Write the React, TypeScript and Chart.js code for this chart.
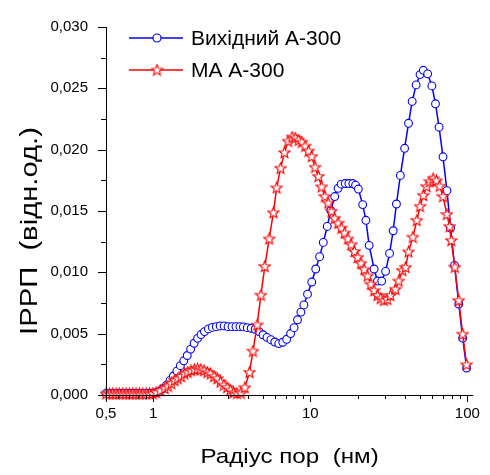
import React, { useEffect, useRef } from "react";
import { Chart, registerables } from "chart.js";

Chart.register(...registerables);

// ---- data ----
const seriesBlueName = "Вихідний А-300";
const seriesRedName = "МА А-300";

const xBlue = [
  0.5, 0.527, 0.555, 0.584, 0.615, 0.648, 0.683, 0.719, 0.757, 0.798, 0.84, 0.885, 0.932, 0.982, 1.034, 1.089,
  1.155, 1.215, 1.278, 1.344, 1.414, 1.487, 1.564, 1.646, 1.73, 1.82, 1.915, 2.014, 2.118, 2.244, 2.378, 2.52,
  2.668, 2.828, 2.996, 3.174, 3.363, 3.562, 3.747, 3.969, 4.205, 4.456, 4.721, 5.002, 5.299, 5.614, 5.947, 6.301,
  6.676, 7.071, 7.492, 7.882, 8.288, 8.717, 9.105, 9.604, 10.22, 10.83, 11.47, 12.1, 12.82, 13.5, 14.31, 15.03,
  15.76, 16.7, 17.61, 18.66, 19.43, 20.23, 21.56, 22.61, 23.71, 25.49, 26.77, 28.48, 30.17, 31.97, 33.72, 35.37,
  37.47, 39.86, 42.23, 44.55, 47.21, 50.01, 52.45, 55.89, 59.47, 62.73, 66.08, 70.0, 74.18, 78.24, 82.9, 88.21,
  93.44, 98.99,
];
const yBlue = [
  0.00013, 0.00013, 0.00013, 0.00013, 0.00013, 0.00013, 0.00013, 0.00013, 0.00013, 0.00013, 0.00013, 0.00013, 0.00014, 0.00015, 0.00018, 0.00028,
  0.00053, 0.0008, 0.00119, 0.00155, 0.00195, 0.00239, 0.00279, 0.00322, 0.00374, 0.00422, 0.00462, 0.00493, 0.00517, 0.00539, 0.00551, 0.00557,
  0.00563, 0.00563, 0.00557, 0.00557, 0.00557, 0.00557, 0.00555, 0.00549, 0.00544, 0.00536, 0.00517, 0.00491, 0.0047, 0.00451, 0.00432, 0.00419,
  0.0043, 0.00454, 0.00501, 0.00549, 0.00613, 0.00676, 0.00734, 0.00822, 0.00921, 0.01027, 0.01128, 0.01244, 0.01374, 0.01504, 0.01618, 0.01685,
  0.01719, 0.01724, 0.01724, 0.01724, 0.01711, 0.01679, 0.01552, 0.01424, 0.0122, 0.01027, 0.00929, 0.00929, 0.01008, 0.01154, 0.01339, 0.01557,
  0.0179, 0.02011, 0.02215, 0.02393, 0.02528, 0.02612, 0.02647, 0.02618, 0.0252, 0.02374, 0.02183, 0.01942, 0.01666, 0.01361, 0.01056, 0.00742,
  0.00464, 0.0022,
];

const xRed = [
  0.5, 0.525, 0.552, 0.579, 0.608, 0.639, 0.671, 0.705, 0.74, 0.777, 0.816, 0.857, 0.9, 0.946, 0.993, 1.043,
  1.106, 1.184, 1.242, 1.302, 1.368, 1.434, 1.504, 1.58, 1.657, 1.739, 1.826, 1.915, 2.008, 2.11, 2.212, 2.32,
  2.437, 2.556, 2.68, 2.816, 2.953, 3.097, 3.243, 3.411, 3.614, 3.829, 4.099, 4.316, 4.586, 4.846, 5.133, 5.47,
  5.82, 6.104, 6.467, 6.85, 7.225, 7.656, 8.03, 8.433, 8.844, 9.276, 9.743, 10.22, 10.72, 11.26, 11.81, 12.38,
  13.01, 13.64, 14.31, 15.03, 15.76, 16.53, 17.36, 18.2, 19.09, 20.05, 21.03, 22.06, 23.17, 24.3, 25.49, 26.77,
  28.08, 29.44, 30.93, 32.43, 34.85, 36.56, 38.56, 40.45, 42.23, 45.01, 47.7, 50.01, 52.45, 55.09, 57.78, 60.59,
  63.64, 66.74, 70.0, 74.18, 77.13, 79.05, 83.26, 88.21, 93.44, 98.99,
];
const yRed = [
  0.0001, 0.0001, 0.0001, 0.0001, 0.0001, 0.0001, 0.0001, 0.0001, 0.0001, 0.0001, 0.0001, 0.0001, 0.0001, 0.0001, 0.00012, 0.0002,
  0.00036, 0.00053, 0.00072, 0.00093, 0.00119, 0.00133, 0.00151, 0.00173, 0.00185, 0.00199, 0.00207, 0.00212, 0.00207, 0.00199, 0.00185, 0.00173,
  0.00151, 0.00133, 0.00106, 0.0008, 0.00061, 0.0004, 0.0002, 0.00013, 0.00016, 0.0006, 0.00185, 0.00358, 0.00571, 0.00814, 0.01048, 0.01273,
  0.01486, 0.01689, 0.01849, 0.01976, 0.02069, 0.02103, 0.02095, 0.02077, 0.02061, 0.02029, 0.01989, 0.01944, 0.01857, 0.01782, 0.01697, 0.01618,
  0.01565, 0.01498, 0.0144, 0.01401, 0.01361, 0.01321, 0.01273, 0.01225, 0.0117, 0.01122, 0.01074, 0.01023, 0.00971, 0.00903, 0.00851, 0.00812,
  0.00788, 0.00772, 0.0078, 0.00812, 0.00862, 0.00929, 0.01015, 0.0104, 0.01167, 0.01287, 0.01424, 0.01538, 0.01627, 0.01699, 0.01739, 0.01763,
  0.01747, 0.01703, 0.01618, 0.01472, 0.01373, 0.0126, 0.01042, 0.0077, 0.00496, 0.00247,
];

const xMajorTicks = [0.5, 1, 10, 100];
const xMinorTicks = [0.6, 0.7, 0.8, 0.9, 2, 3, 4, 5, 6, 7, 8, 9, 20, 30, 40, 50, 60, 70, 80, 90];
const xTickLabels = ["0,5", "1", "10", "100"];
const yMajorTicks = [0, 0.005, 0.01, 0.015, 0.02, 0.025, 0.03];
const yMinorTicks = [0.0025, 0.0075, 0.0125, 0.0175, 0.0225, 0.0275];
const xTitle = "Радіус пор  (нм)";
const yTitle = "ІРРП  (відн.од.)";

const BLUE = "#0000ff";
const RED = "#ff0000";
const FONT = "'Liberation Sans', Arial, sans-serif";

function makeStar(color: string): HTMLCanvasElement {
  const c = document.createElement("canvas");
  c.width = 13;
  c.height = 13;
  const ctx = c.getContext("2d")!;
  const cx = 6.5, cy = 6.8, ro = 5.8, ri = 2.5;
  ctx.beginPath();
  for (let i = 0; i < 10; i++) {
    const r = i % 2 === 0 ? ro : ri;
    const a = -Math.PI / 2 + (i * Math.PI) / 5;
    const px = cx + r * Math.cos(a);
    const py = cy + r * Math.sin(a);
    if (i === 0) ctx.moveTo(px, py);
    else ctx.lineTo(px, py);
  }
  ctx.closePath();
  ctx.fillStyle = "#ffffff";
  ctx.fill();
  ctx.strokeStyle = color;
  ctx.lineWidth = 1.1;
  ctx.stroke();
  return c;
}

export default function App() {
  const ref = useRef<HTMLCanvasElement | null>(null);

  useEffect(() => {
    const canvas = ref.current;
    if (!canvas) return;
    const star = makeStar(RED);

    const axesPlugin = {
      id: "axesPlugin",
      afterDraw(chart: any) {
        const { ctx, chartArea, scales } = chart;
        const xs = scales.x;
        const ys = scales.y;
        ctx.save();
        ctx.strokeStyle = "#000";
        ctx.lineWidth = 1;
        // axis lines
        ctx.beginPath();
        ctx.moveTo(chartArea.left + 0.5, chartArea.top);
        ctx.lineTo(chartArea.left + 0.5, chartArea.bottom + 0.5);
        ctx.lineTo(chartArea.right, chartArea.bottom + 0.5);
        ctx.stroke();
        // x ticks
        const xt = (v: number, len: number) => {
          const p = Math.round(xs.getPixelForValue(v)) + 0.5;
          ctx.beginPath();
          ctx.moveTo(p, chartArea.bottom);
          ctx.lineTo(p, chartArea.bottom + len);
          ctx.stroke();
        };
        xMajorTicks.forEach((v) => xt(v, 7));
        xMinorTicks.forEach((v) => xt(v, 4));
        const yt = (v: number, len: number) => {
          const p = Math.round(ys.getPixelForValue(v)) + 0.5;
          ctx.beginPath();
          ctx.moveTo(chartArea.left, p);
          ctx.lineTo(chartArea.left - len, p);
          ctx.stroke();
        };
        yMajorTicks.forEach((v) => yt(v, 8));
        yMinorTicks.forEach((v) => yt(v, 5));

        // axis titles
        ctx.fillStyle = "#000";
        ctx.font = `21px ${FONT}`;
        ctx.textAlign = "center";
        ctx.textBaseline = "alphabetic";
        ctx.save();
        ctx.translate((chartArea.left + chartArea.right) / 2, 463);
        ctx.scale(1.15, 1);
        ctx.fillText(xTitle, 0, 0);
        ctx.restore();

        ctx.save();
        ctx.font = `23px ${FONT}`;
        ctx.translate(37, (chartArea.top + chartArea.bottom) / 2 + 20);
        ctx.rotate(-Math.PI / 2);
        ctx.scale(1.27, 1);
        ctx.fillText(yTitle, 0, 0);
        ctx.restore();

        // legend
        const rows = [
          { name: seriesBlueName, color: BLUE, y: 38, kind: "circle" },
          { name: seriesRedName, color: RED, y: 70, kind: "star" },
        ];
        ctx.font = `21px ${FONT}`;
        ctx.textAlign = "left";
        ctx.textBaseline = "middle";
        rows.forEach((r) => {
          ctx.strokeStyle = r.color;
          ctx.lineWidth = 1.5;
          ctx.beginPath();
          ctx.moveTo(129, r.y);
          ctx.lineTo(183, r.y);
          ctx.stroke();
          if (r.kind === "circle") {
            ctx.beginPath();
            ctx.arc(157, r.y, 4, 0, Math.PI * 2);
            ctx.fillStyle = "#fff";
            ctx.fill();
            ctx.lineWidth = 1.2;
            ctx.stroke();
          } else {
            ctx.drawImage(star, 157 - 6.5, r.y - 6.5);
          }
          ctx.fillStyle = "#000";
          ctx.fillText(r.name, 191, r.y + 1);
        });
        ctx.restore();
      },
    };

    const chart = new Chart(canvas, {
      type: "line",
      data: {
        datasets: [
          {
            label: seriesBlueName,
            data: xBlue.map((x, i) => ({ x, y: yBlue[i] })),
            borderColor: BLUE,
            borderWidth: 1.5,
            pointStyle: "circle",
            pointRadius: 3.9,
            pointBorderWidth: 1.1,
            pointBackgroundColor: "#ffffff",
            pointBorderColor: BLUE,
            tension: 0,
            order: 1,
            clip: false as any,
          },
          {
            label: seriesRedName,
            data: xRed.map((x, i) => ({ x, y: yRed[i] })),
            borderColor: RED,
            borderWidth: 1.5,
            pointStyle: star as any,
            pointRadius: 5,
            tension: 0,
            order: 0,
            clip: false as any,
          },
        ],
      },
      options: {
        responsive: false,
        animation: false,
        events: [],
        layout: { padding: { top: 18, right: 11, left: 0, bottom: 0 } },
        plugins: { legend: { display: false }, tooltip: { enabled: false } },
        scales: {
          x: {
            type: "logarithmic",
            min: 0.5,
            max: 109,
            grid: { display: false, drawTicks: false },
            border: { display: false },
            afterBuildTicks: (scale: any) => {
              scale.ticks = xMajorTicks.map((v) => ({ value: v }));
            },
            afterFit: (scale: any) => {
              scale.height = 80;
            },
            ticks: {
              autoSkip: false,
              maxRotation: 0,
              padding: 10,
              color: "#000",
              font: { family: FONT, size: 15 },
              callback: (v: any) => {
                const i = xMajorTicks.indexOf(Number(v));
                return i >= 0 ? xTickLabels[i] : "";
              },
            },
          },
          y: {
            type: "linear",
            min: 0,
            max: 0.03,
            grid: { display: false, drawTicks: false },
            border: { display: false },
            afterBuildTicks: (scale: any) => {
              scale.ticks = yMajorTicks.map((v) => ({ value: v }));
            },
            afterFit: (scale: any) => {
              scale.width = 106;
            },
            ticks: {
              autoSkip: false,
              padding: 18,
              color: "#000",
              font: { family: FONT, size: 15 },
              callback: (v: any) => Number(v).toFixed(3).replace(".", ","),
            },
          },
        },
      },
      plugins: [axesPlugin],
    } as any);

    return () => chart.destroy();
  }, []);

  return (
    <div style={{ position: "fixed", left: 0, top: 0, width: 490, height: 475, background: "#fff" }}>
      <canvas ref={ref} width={490} height={475} style={{ width: 490, height: 475 }} />
    </div>
  );
}
